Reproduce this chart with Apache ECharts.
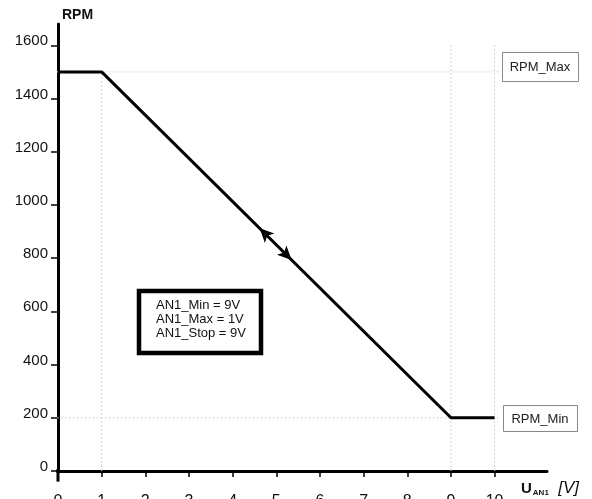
<!DOCTYPE html>
<html><head><meta charset="utf-8">
<script src="https://cdn.jsdelivr.net/npm/echarts@6/dist/echarts.min.js"></script>
<style>html,body{margin:0;padding:0;background:#fff}#c{width:592px;height:499px}</style>
</head><body><div id="c"></div>
<script>
// ---- data ----
const curveX = [0, 1, 9, 10];
const curveRPM = [1500, 1500, 200, 200];
const xTicks = [0, 1, 2, 3, 4, 5, 6, 7, 8, 9, 10];
const yTicks = [0, 200, 400, 600, 800, 1000, 1200, 1400, 1600];
const arrowUp = [4.62, 912];    // arrow pointing toward lower voltage
const arrowDown = [5.35, 793];  // arrow pointing toward higher voltage
const infoLines = ['AN1_Min = 9V', 'AN1_Max = 1V', 'AN1_Stop = 9V'];
const maxLabel = 'RPM_Max';
const minLabel = 'RPM_Min';

const X_MAX = 11.2, Y_MAX = 1680;
const font = 'Liberation Sans, Arial, sans-serif';
const gridStyle = { color: '#d4d4d4', width: 1, type: [2, 2] };

const chart = echarts.init(document.getElementById('c'));
const guide = (pts) => ({
  type: 'line', data: pts, symbol: 'none', silent: true, clip: false,
  lineStyle: gridStyle, z: 1
});
chart.setOption({
  animation: false,
  backgroundColor: '#fff',
  grid: { left: 58, top: 24, bottom: 28, right: 45, outerBoundsMode: 'none', containLabel: false },
  xAxis: {
    type: 'value', min: 0, max: X_MAX, interval: 1,
    axisLine: { show: true, lineStyle: { color: '#000', width: 3 } },
    axisTick: { show: true, customValues: xTicks, length: 6, lineStyle: { color: '#000', width: 1.5 } },
    axisLabel: { customValues: xTicks, color: '#111', fontSize: 16, fontFamily: font, margin: 23 },
    splitLine: { show: false }
  },
  yAxis: {
    type: 'value', min: 0, max: Y_MAX, interval: 200,
    axisLine: { show: true, lineStyle: { color: '#000', width: 3 } },
    axisTick: { show: true, customValues: yTicks, length: 7, lineStyle: { color: '#000', width: 1.5 } },
    axisLabel: { customValues: yTicks, color: '#111', fontSize: 15, fontFamily: font, margin: 10,
      verticalAlign: 'bottom', lineHeight: 8, formatter: (v) => String(v) },
    splitLine: { show: false }
  },
  series: [
    guide([[-0.4, curveRPM[0]], [10.1, curveRPM[0]]]),
    guide([[-0.4, curveRPM[3]], [10.1, curveRPM[3]]]),
    guide([[curveX[1], 0], [curveX[1], curveRPM[1]]]),
    guide([[curveX[2], 0], [curveX[2], 1610]]),
    guide([[curveX[3], 0], [curveX[3], 1610]]),
    { // axis overshoots
      type: 'line', data: [[-0.3, 0], [0, 0]], symbol: 'none', clip: false, silent: true,
      lineStyle: { color: '#000', width: 3 }, z: 3
    },
    {
      type: 'line', data: [[0, -40], [0, 0]], symbol: 'none', clip: false, silent: true,
      lineStyle: { color: '#000', width: 3 }, z: 3
    },
    {
      type: 'line',
      data: curveX.map((x, i) => [x, curveRPM[i]]),
      symbol: 'none', clip: false,
      lineStyle: { color: '#000', width: 3 }, z: 5,
      markPoint: {
        silent: true,
        symbol: 'arrow',
        symbolSize: [10, 14],
        itemStyle: { color: '#000' },
        label: { show: false },
        data: [
          { coord: arrowUp, symbolRotate: 45 },
          { coord: arrowDown, symbolRotate: -135 }
        ]
      }
    }
  ],
  graphic: [
    { type: 'text', left: 62, top: 8, style: { text: 'RPM', font: 'bold 14px ' + font, fill: '#111' } },
    { type: 'text', left: 521, top: 480, style: {
        text: '{u|U}{s|AN1}{v|  [V]}',
        rich: {
          u: { font: 'bold 15px ' + font, fill: '#111' },
          s: { font: 'bold 8px ' + font, fill: '#111', padding: [8, 0, 0, 1] },
          v: { font: 'italic 17px ' + font, fill: '#111' }
        }
    } },
    { type: 'rect', shape: { x: 139, y: 291, width: 122, height: 62 },
      style: { fill: '#fff', stroke: '#000', lineWidth: 4.5 }, z: 10 },
    { type: 'text', left: 156, top: 298, z: 11,
      style: { text: infoLines.join('\n'), font: '13px ' + font, fill: '#111', lineHeight: 14 } },
    { type: 'rect', shape: { x: 502.5, y: 52.5, width: 76, height: 29 },
      style: { fill: '#fff', stroke: '#888', lineWidth: 1 }, z: 10 },
    { type: 'text', x: 540, y: 67, z: 11,
      style: { text: maxLabel, font: '13px ' + font, fill: '#222', align: 'center', verticalAlign: 'middle' } },
    { type: 'rect', shape: { x: 503.5, y: 405.5, width: 74, height: 26 },
      style: { fill: '#fff', stroke: '#888', lineWidth: 1 }, z: 10 },
    { type: 'text', x: 540, y: 419, z: 11,
      style: { text: minLabel, font: '13px ' + font, fill: '#222', align: 'center', verticalAlign: 'middle' } }
  ]
});
</script></body></html>
